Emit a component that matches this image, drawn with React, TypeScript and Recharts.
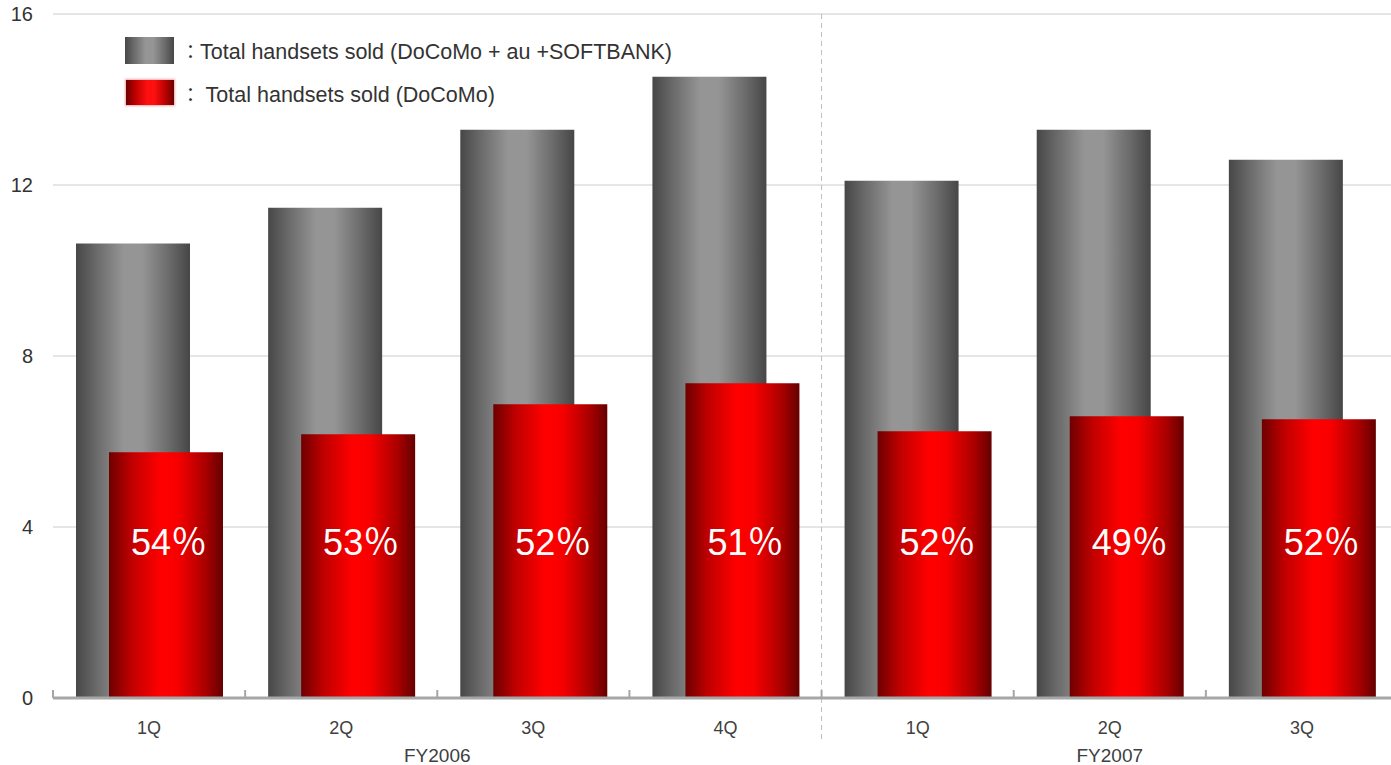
import { Bar, BarChart, CartesianGrid, LabelList, ReferenceLine, XAxis, YAxis } from "recharts";

const categories = ["FY2006 1Q", "FY2006 2Q", "FY2006 3Q", "FY2006 4Q", "FY2007 1Q", "FY2007 2Q", "FY2007 3Q"];
const quarters = ["1Q", "2Q", "3Q", "4Q", "1Q", "2Q", "3Q"];
const fiscalYears = ["FY2006", "FY2006", "FY2006", "FY2006", "FY2007", "FY2007", "FY2007"];
// millions of handsets
const totalSold = [10.63, 11.47, 13.29, 14.53, 12.1, 13.29, 12.59];
const docomoSold = [5.75, 6.17, 6.87, 7.36, 6.24, 6.59, 6.52];
const docomoShare = ["54％", "53％", "52％", "51％", "52％", "49％", "52％"];
const yTicks = [0, 4, 8, 12, 16];

const data = categories.map((category, i) => ({
  category,
  quarter: quarters[i],
  fy: fiscalYears[i],
  total: totalSold[i],
  docomo: docomoSold[i],
  share: docomoShare[i],
}));

const CHART_W = 1398;
const CHART_H = 765;
const Y_AXIS_W = 53;
const BAND = (CHART_W - Y_AXIS_W) / categories.length;
const FONT = '"Liberation Sans", Arial, sans-serif';
const AXIS_GREY = "#a6a6a6";

function QuarterTick(props: any) {
  const { x, y, payload } = props;
  const i = payload.index;
  const row = data[i];
  const groupStart = i === 0 || data[i - 1].fy !== row.fy;
  const groupSize = data.filter((d) => d.fy === row.fy).length;
  return (
    <g>
      <line x1={x - BAND / 2} x2={x - BAND / 2} y1={y - 8} y2={y} stroke={AXIS_GREY} strokeWidth={2} />
      <text x={x} y={y + 36} textAnchor="middle" fontSize={18} fill="#404040" fontFamily={FONT}>
        {row.quarter}
      </text>
      {groupStart && (
        <text x={x + ((groupSize - 1) / 2) * BAND} y={y + 64} textAnchor="middle" fontSize={19} fill="#404040" fontFamily={FONT}>
          {row.fy}
        </text>
      )}
    </g>
  );
}

function ShareLabel(props: any) {
  const { x, y, width, height, value } = props;
  return (
    <text
      x={x + width / 2 + 3}
      y={y + height - 143}
      textAnchor="middle"
      fontSize={36}
      fill="#ffffff"
      fontFamily={'"Liberation Sans", "Noto Sans CJK JP", sans-serif'}
    >
      {value}
    </text>
  );
}

function DividerLine(props: any) {
  const top = Math.min(props.y1, props.y2);
  const bottom = Math.max(props.y1, props.y2);
  return <line x1={props.x1} x2={props.x2} y1={top} y2={bottom + 42} stroke="#bdbdbd" strokeWidth={1} strokeDasharray="5 4" />;
}

const greyGradient = "linear-gradient(to right, #474747 0%, #6a6a6a 18%, #959595 42%, #959595 58%, #6a6a6a 82%, #464646 100%)";
const redGradient = "linear-gradient(to right, #6e0000 0%, #c00000 20%, #ff1010 45%, #ff1010 58%, #b00000 85%, #680000 100%)";

export default function App() {
  return (
    <div style={{ position: "absolute", left: 0, top: 0, width: 1391, height: CHART_H, overflow: "hidden", background: "#fff", fontFamily: FONT }}>
      <BarChart width={CHART_W} height={CHART_H} data={data} margin={{ top: 14, right: 0, bottom: 0, left: 0 }} barSize={114} barGap={-81}>
        <defs>
          <linearGradient id="grad-total" x1="0" y1="0" x2="1" y2="0">
            <stop offset="0%" stopColor="#474747" />
            <stop offset="18%" stopColor="#6a6a6a" />
            <stop offset="42%" stopColor="#959595" />
            <stop offset="58%" stopColor="#959595" />
            <stop offset="82%" stopColor="#6a6a6a" />
            <stop offset="100%" stopColor="#464646" />
          </linearGradient>
          <linearGradient id="grad-docomo" x1="0" y1="0" x2="1" y2="0">
            <stop offset="0%" stopColor="#6e0000" />
            <stop offset="20%" stopColor="#c00000" />
            <stop offset="45%" stopColor="#ff0000" />
            <stop offset="60%" stopColor="#f80000" />
            <stop offset="85%" stopColor="#a80000" />
            <stop offset="100%" stopColor="#650000" />
          </linearGradient>
        </defs>
        <CartesianGrid vertical={false} stroke="#cccccc" />
        <XAxis
          dataKey="category"
          height={67}
          interval={0}
          tickLine={false}
          tickSize={0}
          tickMargin={0}
          axisLine={{ stroke: AXIS_GREY, strokeWidth: 3 }}
          tick={<QuarterTick />}
        />
        <YAxis
          width={Y_AXIS_W}
          domain={[0, 16]}
          ticks={yTicks}
          axisLine={false}
          tickLine={false}
          tickMargin={14}
          tick={{ fill: "#333333", fontSize: 20, fontFamily: FONT }}
        />
        <ReferenceLine x="FY2007 1Q" position="start" shape={<DividerLine />} />
        <Bar dataKey="total" fill="url(#grad-total)" isAnimationActive={false} />
        <Bar dataKey="docomo" fill="url(#grad-docomo)" isAnimationActive={false}>
          <LabelList dataKey="share" content={<ShareLabel />} />
        </Bar>
      </BarChart>

      <div style={{ position: "absolute", left: 125, top: 37, width: 49, height: 27, background: greyGradient }} />
      <div style={{ position: "absolute", left: 181, top: 37, fontSize: 21.5, color: "#333", whiteSpace: "nowrap", lineHeight: "28px" }}>
        <span style={{ fontFamily: '"Noto Sans CJK JP", sans-serif', fontSize: 19 }}>：</span>Total handsets sold (DoCoMo + au +SOFTBANK)
      </div>
      <div style={{ position: "absolute", left: 126, top: 80, width: 48, height: 25, background: redGradient, boxShadow: "0 0 2px 1px rgba(200,0,0,0.35)" }} />
      <div style={{ position: "absolute", left: 181, top: 80, fontSize: 21.5, color: "#333", whiteSpace: "nowrap", lineHeight: "28px" }}>
        <span style={{ fontFamily: '"Noto Sans CJK JP", sans-serif', fontSize: 19 }}>：</span> Total handsets sold (DoCoMo)
      </div>
    </div>
  );
}
